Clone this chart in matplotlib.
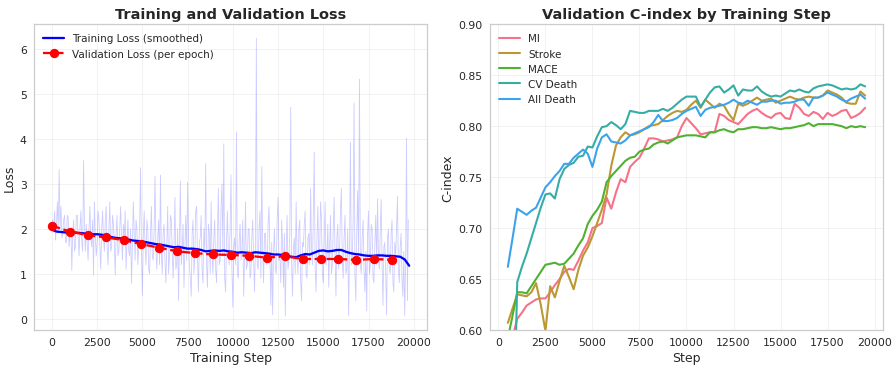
import numpy as np
import seaborn as sns
from matplotlib import pyplot as plt

sns.set_style("whitegrid")

# raw training loss, one value per 50 steps
raw_steps = np.arange(0, 19701, 50)
raw_loss = [
    2.05, 2.2, 1.95, 2.4, 1.75, 2.1, 2.6, 1.9, 3.32, 2.0, 2.5, 1.8, 1.9, 2.2, 2.3, 1.7, 1.7, 2.3, 2.25, 1.6,
    1.85, 2.0, 1.08, 1.9, 2.2, 1.5, 1.6, 2.3, 2.3, 1.8, 1.4, 2.0, 2.4, 1.7, 1.5, 3.52, 2.0, 1.5, 2.1, 1.7,
    1.3, 2.0, 2.5, 1.8, 1.6, 2.2, 0.97, 2.6, 1.8, 1.4, 1.7, 2.4, 2.2, 1.6, 1.1, 2.0, 2.4, 1.8, 1.5, 2.2,
    2.5, 1.6, 1.2, 2.0, 2.6, 1.5, 1.6, 2.3, 2.1, 1.7, 0.97, 1.9, 2.3, 1.4, 1.5, 2.0, 2.5, 1.8, 1.3, 2.1,
    1.8, 2.4, 1.1, 1.7, 2.2, 1.5, 1.4, 2.0, 0.79, 1.6, 2.6, 1.9, 1.3, 2.2, 2.0, 1.2, 1.6, 2.1, 3.36, 1.5,
    0.52, 1.8, 2.4, 1.6, 1.2, 2.2, 2.0, 1.1, 1.0, 1.9, 2.5, 1.4, 1.3, 2.0, 3.17, 1.5, 1.1, 1.8, 2.2, 1.2,
    3.2, 1.4, 1.0, 1.9, 2.1, 1.3, 0.8, 1.7, 2.5, 1.0, 1.4, 2.3, 2.2, 1.5, 0.9, 1.6, 2.7, 1.1, 1.2, 2.0,
    0.41, 1.7, 3.06, 1.2, 1.5, 2.1, 0.7, 1.6, 2.3, 1.3, 3.04, 1.8, 1.2, 0.9, 0.5, 1.9, 2.2, 1.0, 1.4, 2.4,
    2.5, 1.3, 0.6, 1.7, 1.8, 2.3, 1.1, 0.8, 2.0, 1.5, 3.45, 1.2, 0.7, 2.1, 1.9, 1.0, 2.6, 1.4, 1.0, 1.8,
    2.2, 1.1, 0.8, 1.9, 2.9, 1.2, 1.3, 2.5, 3.0, 1.4, 3.89, 0.9, 0.6, 1.7, 2.4, 1.5, 1.2, 2.0, 3.2, 1.1,
    0.26, 1.6, 1.8, 1.2, 4.15, 1.0, 0.9, 1.7, 2.1, 1.3, 1.5, 2.2, 0.5, 1.4, 2.6, 1.1, 1.2, 2.0, 2.0, 0.9,
    1.0, 1.8, 2.2, 1.3, 0.6, 1.6, 6.24, 1.2, 1.1, 2.0, 2.4, 0.9, 3.38, 1.5, 0.8, 1.9, 1.9, 1.2, 1.3, 2.1,
    2.5, 1.4, 0.3, 1.7, 0.09, 1.5, 2.0, 1.1, 1.0, 2.2, 2.7, 1.3, 1.4, 0.8, 2.2, 1.6, 0.7, 1.9, 0.06, 1.5,
    2.3, 1.1, 1.3, 1.9, 4.7, 1.2, 0.5, 1.6, 1.8, 1.0, 2.6, 1.4, 1.0, 2.0, 2.2, 0.8, 0.4, 1.7, 1.6, 2.1,
    2.4, 1.0, 0.9, 1.8, 1.9, 1.2, 2.9, 1.5, 1.2, 2.3, 3.71, 1.1, 0.6, 1.8, 2.5, 1.3, 1.5, 2.6, 2.2, 1.0,
    0.8, 1.7, 2.6, 1.2, 1.4, 2.1, 0.7, 1.6, 2.3, 1.0, 1.2, 2.0, 2.7, 1.4, 0.5, 1.8, 2.1, 1.1, 1.5, 2.4,
    2.9, 1.3, 0.9, 1.8, 2.3, 1.0, 1.1, 2.0, 0.07, 1.5, 3.93, 1.2, 1.3, 2.2, 4.8, 1.0, 0.4, 1.9, 2.85, 1.4,
    5.33, 1.2, 1.0, 1.8, 2.2, 1.1, 0.6, 1.5, 0.18, 1.9, 2.4, 1.0, 1.2, 2.1, 2.0, 0.9, 0.8, 1.7, 2.3, 1.2,
    2.67, 1.3, 1.1, 2.0, 2.65, 1.2, 0.3, 1.6, 1.7, 1.0, 0.09, 1.8, 2.0, 1.1, 1.0, 1.9, 2.2, 0.8, 0.6, 1.7,
    1.4, 2.0, 2.72, 1.1, 0.8, 1.6, 1.9, 0.9, 0.5, 1.5, 0.07, 1.2, 4.02, 0.4, 2.2,
]

# smoothed training loss, every 250 steps
smooth_steps = np.arange(0, 19751, 250)
smooth_loss = [
    1.98, 1.94, 1.93, 1.92, 1.92, 1.92, 1.91, 1.90, 1.89, 1.88,
    1.88, 1.87, 1.85, 1.82, 1.80, 1.79, 1.78, 1.76, 1.74, 1.73,
    1.72, 1.70, 1.68, 1.66, 1.65, 1.63, 1.61, 1.59, 1.60, 1.58,
    1.56, 1.56, 1.55, 1.53, 1.50, 1.51, 1.52, 1.51, 1.52, 1.50,
    1.49, 1.47, 1.48, 1.47, 1.46, 1.48, 1.47, 1.46, 1.45, 1.43,
    1.43, 1.42, 1.40, 1.38, 1.37, 1.41, 1.44, 1.43, 1.47, 1.51,
    1.52, 1.50, 1.51, 1.53, 1.53, 1.49, 1.46, 1.44, 1.43, 1.41,
    1.40, 1.40, 1.41, 1.41, 1.40, 1.40, 1.39, 1.38, 1.32, 1.18,
]

# validation loss per epoch
val_steps = np.arange(20) * 990
val_loss = [2.07, 1.94, 1.86, 1.81, 1.75, 1.66, 1.58, 1.50, 1.46, 1.43,
            1.42, 1.40, 1.36, 1.39, 1.33, 1.33, 1.33, 1.31, 1.33, 1.31]

# validation C-index, every 250 steps
cidx_steps = np.arange(500, 19501, 250)
cidx = {
    "MI": [
        0.575, 0.593, 0.611, 0.617, 0.624, 0.627, 0.630, 0.631, 0.631, 0.637,
        0.644, 0.650, 0.657, 0.660, 0.659, 0.668, 0.678, 0.686, 0.700, 0.702,
        0.705, 0.730, 0.719, 0.735, 0.748, 0.745, 0.760, 0.765, 0.769, 0.778,
        0.788, 0.788, 0.787, 0.785, 0.786, 0.787, 0.789, 0.800, 0.808, 0.803,
        0.798, 0.792, 0.793, 0.794, 0.794, 0.812, 0.810, 0.806, 0.804, 0.802,
        0.807, 0.812, 0.815, 0.817, 0.813, 0.810, 0.808, 0.812, 0.813, 0.808,
        0.807, 0.822, 0.818, 0.812, 0.810, 0.814, 0.812, 0.807, 0.813, 0.810,
        0.812, 0.815, 0.816, 0.808, 0.810, 0.813, 0.818,
    ],
    "Stroke": [
        0.607, 0.621, 0.635, 0.634, 0.633, 0.637, 0.646, 0.625, 0.599, 0.643,
        0.632, 0.648, 0.663, 0.652, 0.640, 0.659, 0.673, 0.681, 0.692, 0.705,
        0.718, 0.733, 0.761, 0.781, 0.789, 0.794, 0.791, 0.792, 0.794, 0.797,
        0.800, 0.801, 0.802, 0.806, 0.810, 0.813, 0.815, 0.814, 0.816, 0.821,
        0.825, 0.818, 0.826, 0.822, 0.818, 0.822, 0.820, 0.812, 0.806, 0.822,
        0.820, 0.822, 0.825, 0.828, 0.825, 0.826, 0.827, 0.823, 0.825, 0.827,
        0.829, 0.827, 0.826, 0.828, 0.829, 0.828, 0.828, 0.830, 0.835, 0.833,
        0.831, 0.828, 0.823, 0.822, 0.822, 0.834, 0.830,
    ],
    "MACE": [
        0.592, 0.614, 0.637, 0.637, 0.636, 0.643, 0.650, 0.657, 0.664, 0.665,
        0.666, 0.664, 0.665, 0.670, 0.675, 0.683, 0.690, 0.704, 0.712, 0.718,
        0.726, 0.745, 0.751, 0.756, 0.761, 0.766, 0.769, 0.770, 0.775, 0.777,
        0.778, 0.782, 0.784, 0.785, 0.783, 0.786, 0.789, 0.790, 0.791, 0.791,
        0.791, 0.790, 0.789, 0.794, 0.794, 0.796, 0.797, 0.795, 0.794, 0.797,
        0.797, 0.798, 0.799, 0.799, 0.798, 0.798, 0.799, 0.798, 0.797, 0.798,
        0.798, 0.799, 0.800, 0.801, 0.803, 0.800, 0.802, 0.802, 0.802, 0.802,
        0.801, 0.800, 0.798, 0.800, 0.799, 0.800, 0.799,
    ],
    "CV Death": [
        0.420, 0.450, 0.647, 0.662, 0.675, 0.690, 0.705, 0.720, 0.733, 0.734,
        0.729, 0.748, 0.758, 0.762, 0.764, 0.770, 0.771, 0.780, 0.779, 0.790,
        0.799, 0.800, 0.804, 0.801, 0.797, 0.802, 0.815, 0.814, 0.813, 0.813,
        0.815, 0.815, 0.815, 0.817, 0.815, 0.818, 0.822, 0.826, 0.829, 0.829,
        0.829, 0.819, 0.826, 0.833, 0.838, 0.839, 0.833, 0.836, 0.840, 0.830,
        0.836, 0.835, 0.835, 0.839, 0.834, 0.831, 0.829, 0.830, 0.829, 0.832,
        0.835, 0.834, 0.836, 0.834, 0.833, 0.837, 0.839, 0.840, 0.841, 0.840,
        0.838, 0.836, 0.837, 0.836, 0.837, 0.841, 0.839,
    ],
    "All Death": [
        0.662, 0.690, 0.719, 0.716, 0.713, 0.717, 0.720, 0.730, 0.740, 0.745,
        0.751, 0.756, 0.763, 0.763, 0.769, 0.773, 0.777, 0.773, 0.760, 0.778,
        0.789, 0.792, 0.785, 0.784, 0.783, 0.786, 0.791, 0.793, 0.795, 0.797,
        0.799, 0.804, 0.811, 0.805, 0.805, 0.806, 0.808, 0.812, 0.815, 0.817,
        0.819, 0.810, 0.816, 0.818, 0.819, 0.820, 0.821, 0.823, 0.826, 0.823,
        0.822, 0.825, 0.823, 0.821, 0.824, 0.824, 0.825, 0.825, 0.822, 0.823,
        0.823, 0.824, 0.826, 0.826, 0.820, 0.828, 0.828, 0.830, 0.833, 0.831,
        0.829, 0.826, 0.824, 0.827, 0.829, 0.831, 0.827,
    ],
}

fig, (ax1, ax2) = plt.subplots(1, 2, figsize=(12, 4.94), dpi=896 / 12)
fig.subplots_adjust(left=0.038, right=0.9855, bottom=0.103, top=0.932, wspace=0.16)

# left panel: loss
ax1.plot(raw_steps, raw_loss, color="blue", alpha=0.2, lw=0.8)
ax1.plot(smooth_steps, smooth_loss, color="blue", lw=2.2, label="Training Loss (smoothed)")
ax1.plot(val_steps, val_loss, "r--o", lw=2.2, markersize=8, label="Validation Loss (per epoch)")
ax1.set_title("Training and Validation Loss", fontsize=14, fontweight="bold")
ax1.set_xlabel("Training Step", fontsize=12)
ax1.set_ylabel("Loss", fontsize=12)
ax1.legend(loc="upper left", frameon=False, fontsize=10)
ax1.grid(True, alpha=0.3)

# right panel: C-index
colors = sns.color_palette("husl", 6)
for (name, vals), c in zip(cidx.items(), colors):
    ax2.plot(cidx_steps, vals, color=c, lw=2, label=name)
ax2.set_ylim(0.6, 0.9)
ax2.set_title("Validation C-index by Training Step", fontsize=14, fontweight="bold")
ax2.set_xlabel("Step", fontsize=12)
ax2.set_ylabel("C-index", fontsize=12)
ax2.legend(loc="upper left", frameon=False, fontsize=10)
ax2.grid(True, alpha=0.3)

for ax in (ax1, ax2):
    ax.tick_params(labelsize=10.5)
    for s in ax.spines.values():
        s.set_color("#cccccc")
        s.set_linewidth(1.2)

plt.savefig("out.png")
